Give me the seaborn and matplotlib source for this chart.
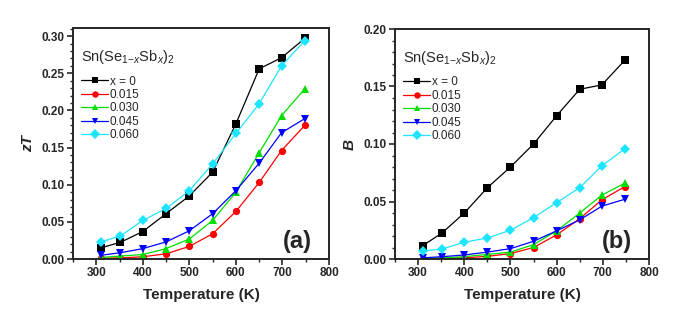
import numpy as np
import pandas as pd
import seaborn as sns
import matplotlib.pyplot as plt
from matplotlib.ticker import MultipleLocator, FormatStrFormatter

temps = [310, 352, 400, 450, 500, 550, 600, 650, 698, 748]
series_labels = ["x = 0", "0.015", "0.030", "0.045", "0.060"]

zt_x0 = [0.015, 0.0225, 0.037, 0.061, 0.085, 0.117, 0.182, 0.256, 0.271, 0.297]
zt_x015 = [0.001, 0.0015, 0.003, 0.007, 0.017, 0.034, 0.064, 0.103, 0.146, 0.180]
zt_x030 = [0.002, 0.004, 0.006, 0.014, 0.027, 0.052, 0.090, 0.143, 0.193, 0.229]
zt_x045 = [0.005, 0.0085, 0.014, 0.023, 0.038, 0.061, 0.092, 0.129, 0.170, 0.189]
zt_x060 = [0.023, 0.031, 0.052, 0.068, 0.092, 0.128, 0.169, 0.209, 0.260, 0.294]

b_x0 = [0.0116, 0.0227, 0.040, 0.062, 0.080, 0.100, 0.1246, 0.1476, 0.1514, 0.173]
b_x015 = [0.0003, 0.0006, 0.001, 0.0023, 0.0047, 0.010, 0.021, 0.035, 0.0515, 0.063]
b_x030 = [0.0006, 0.001, 0.002, 0.004, 0.006, 0.0125, 0.0245, 0.040, 0.0556, 0.066]
b_x045 = [0.001, 0.002, 0.0035, 0.006, 0.009, 0.0154, 0.0245, 0.034, 0.046, 0.052]
b_x060 = [0.007, 0.0087, 0.0146, 0.0183, 0.025, 0.036, 0.049, 0.062, 0.081, 0.096]

colors = ["#000000", "#ff0000", "#00dd00", "#0000ff", "#1ee5ff"]
markers = ["s", "o", "^", "v", "D"]


def long_df(series):
    rows = []
    for lab, vals in zip(series_labels, series):
        for t, v in zip(temps, vals):
            rows.append({"T": t, "val": v, "x": lab})
    return pd.DataFrame(rows)


df_a = long_df([zt_x0, zt_x015, zt_x030, zt_x045, zt_x060])
df_b = long_df([b_x0, b_x015, b_x030, b_x045, b_x060])

sns.set_style("ticks")
plt.rcParams["font.family"] = ["Liberation Sans", "DejaVu Sans"]
plt.rcParams["mathtext.fontset"] = "custom"
plt.rcParams["mathtext.rm"] = "Liberation Sans"
plt.rcParams["mathtext.it"] = "Liberation Sans:italic"

fig = plt.figure(figsize=(6.81, 3.21), dpi=100)
ax_a = fig.add_axes([73 / 681, 62 / 321, 256 / 681, 231 / 321])
ax_b = fig.add_axes([395 / 681, 62 / 321, 254 / 681, 230 / 321])

pal = dict(zip(series_labels, colors))
mk = dict(zip(series_labels, markers))

for ax, df, ylim, ylabel, tag in [
    (ax_a, df_a, (0, 0.311), "zT", "(a)"),
    (ax_b, df_b, (0, 0.20), "B", "(b)"),
]:
    sns.lineplot(data=df, x="T", y="val", hue="x", style="x", hue_order=series_labels,
                 style_order=series_labels, palette=pal, markers=mk, dashes=False,
                 linewidth=0.9, markersize=5.2, markeredgewidth=0, ax=ax)
    ax.set_xlim(250, 800)
    ax.set_ylim(*ylim)
    ax.xaxis.set_major_locator(MultipleLocator(100))
    ax.xaxis.set_minor_locator(MultipleLocator(50))
    ax.yaxis.set_major_locator(MultipleLocator(0.05))
    ax.yaxis.set_minor_locator(MultipleLocator(0.01))
    ax.yaxis.set_major_formatter(FormatStrFormatter("%.2f"))
    ax.set_xticks([300, 400, 500, 600, 700, 800])
    ax.tick_params(which="major", direction="out", length=4, width=1.2, labelsize=8.5, pad=2)
    ax.tick_params(which="minor", direction="out", length=2.2, width=1.0)
    for lab in ax.get_xticklabels() + ax.get_yticklabels():
        lab.set_fontweight("bold")
    for s in ax.spines.values():
        s.set_linewidth(1.4)
        s.set_visible(True)
    ax.set_xlabel("Temperature (K)", fontsize=11, fontweight="bold", labelpad=6)
    ax.set_ylabel(ylabel, fontsize=11, fontweight="bold", fontstyle="italic", labelpad=5)
    ax.text(0.875, 0.075, tag, transform=ax.transAxes, fontsize=17, fontweight="bold",
            ha="center", va="center")
    leg = ax.legend(title=r"Sn(Se$_{1\mathit{-x}}$Sb$_{x}$)$_{2}$", loc="upper left",
                    bbox_to_anchor=(0.0, 0.95), frameon=False, fontsize=8.5,
                    title_fontsize=10.5, handlelength=2.3, handletextpad=0.1,
                    labelspacing=0.12, borderaxespad=0.3)
    leg._legend_box.align = "left"
    leg._legend_box.sep = 7
    for h in leg.legend_handles:
        h.set_markersize(4.6)
        h.set_markeredgewidth(0)
        h.set_linewidth(0.9)

fig.savefig("out.png", dpi=100)
